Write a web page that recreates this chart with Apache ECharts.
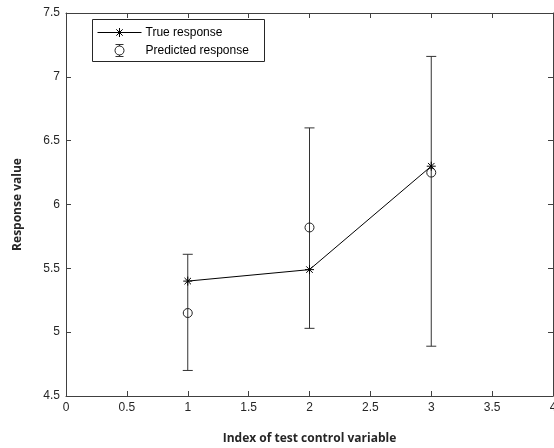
<!DOCTYPE html>
<html>
<head>
<meta charset="utf-8">
<style>
  html, body { margin: 0; padding: 0; background: #fff; overflow: hidden; }
  #chart { width: 554px; height: 448px; }
</style>
<script src="https://cdn.jsdelivr.net/npm/echarts@6/dist/echarts.min.js"></script>
</head>
<body>
<div id="chart"></div>
<script>
// Test control variable indices
const indices = [1, 2, 3];
// Measured (true) response at each index
const trueResponse = [5.40, 5.49, 6.30];
// Model prediction with its interval bounds
const predictedResponse = [5.15, 5.82, 6.25];
const predictedLower = [4.70, 5.03, 4.89];
const predictedUpper = [5.61, 6.60, 7.16];

const AXIS_COLOR = '#404040';
const TEXT_COLOR = '#262626';
const FONT = 'Liberation Sans, Arial, sans-serif';

const chart = echarts.init(document.getElementById('chart'), null, { renderer: 'canvas', width: 554, height: 448 });

function axisBase(extra) {
  return Object.assign({
    axisLine: { show: true, onZero: false, lineStyle: { color: AXIS_COLOR, width: 1 } },
    axisTick: { show: true, inside: true, length: 5, lineStyle: { color: AXIS_COLOR, width: 1 } },
    splitLine: { show: false },
  }, extra);
}

// Asterisk marker (MATLAB-style '*'): vertical, horizontal and two diagonals
function asteriskItem(params, api) {
  const p = api.coord([api.value(0), api.value(1)]);
  const r = 4.5;
  const d = r * 0.72;
  const style = { stroke: '#000', lineWidth: 1 };
  return {
    type: 'group',
    children: [
      { type: 'line', shape: { x1: p[0], y1: p[1] - r, x2: p[0], y2: p[1] + r }, style },
      { type: 'line', shape: { x1: p[0] - r, y1: p[1], x2: p[0] + r, y2: p[1] }, style },
      { type: 'line', shape: { x1: p[0] - d, y1: p[1] - d, x2: p[0] + d, y2: p[1] + d }, style },
      { type: 'line', shape: { x1: p[0] - d, y1: p[1] + d, x2: p[0] + d, y2: p[1] - d }, style },
    ]
  };
}

// Error bar with horizontal caps plus open circle at the predicted value
function errorBarItem(params, api) {
  const x = api.value(0);
  const lo = api.coord([x, api.value(1)]);
  const hi = api.coord([x, api.value(2)]);
  const mid = api.coord([x, api.value(3)]);
  const cap = 5;
  const style = { stroke: '#333', lineWidth: 1 };
  return {
    type: 'group',
    children: [
      { type: 'line', shape: { x1: lo[0], y1: lo[1], x2: hi[0], y2: hi[1] }, style },
      { type: 'line', shape: { x1: lo[0] - cap, y1: lo[1], x2: lo[0] + cap, y2: lo[1] }, style },
      { type: 'line', shape: { x1: hi[0] - cap, y1: hi[1], x2: hi[0] + cap, y2: hi[1] }, style },
      { type: 'circle', shape: { cx: mid[0], cy: mid[1], r: 4.5 }, style: { stroke: '#222', fill: 'rgba(255,255,255,0)', lineWidth: 1 } },
    ]
  };
}

const trueData = indices.map((x, i) => [x, trueResponse[i]]);
const errData = indices.map((x, i) => [x, predictedLower[i], predictedUpper[i], predictedResponse[i]]);

// Legend drawn as a boxed key in the upper-left corner
const legendGraphic = {
  type: 'group',
  left: 92, top: 19,
  children: [
    { type: 'rect', shape: { x: 0, y: 0, width: 172, height: 42 }, style: { fill: '#fff', stroke: '#262626', lineWidth: 1 } },
    { type: 'line', shape: { x1: 5, y1: 13, x2: 49, y2: 13 }, style: { stroke: '#000', lineWidth: 1 } },
    { type: 'line', shape: { x1: 27, y1: 8.5, x2: 27, y2: 17.5 }, style: { stroke: '#000', lineWidth: 1 } },
    { type: 'line', shape: { x1: 22.5, y1: 13, x2: 31.5, y2: 13 }, style: { stroke: '#000', lineWidth: 1 } },
    { type: 'line', shape: { x1: 23.8, y1: 9.8, x2: 30.2, y2: 16.2 }, style: { stroke: '#000', lineWidth: 1 } },
    { type: 'line', shape: { x1: 23.8, y1: 16.2, x2: 30.2, y2: 9.8 }, style: { stroke: '#000', lineWidth: 1 } },
    { type: 'text', style: { x: 53, y: 13, text: 'True response', fill: '#000', font: '12px ' + FONT, textVerticalAlign: 'middle' } },
    { type: 'line', shape: { x1: 27, y1: 25, x2: 27, y2: 37 }, style: { stroke: '#333', lineWidth: 1 } },
    { type: 'line', shape: { x1: 23, y1: 25, x2: 31, y2: 25 }, style: { stroke: '#333', lineWidth: 1 } },
    { type: 'line', shape: { x1: 23, y1: 37, x2: 31, y2: 37 }, style: { stroke: '#333', lineWidth: 1 } },
    { type: 'circle', shape: { cx: 27, cy: 31, r: 4.5 }, style: { stroke: '#222', fill: '#fff', lineWidth: 1 } },
    { type: 'text', style: { x: 53, y: 31, text: 'Predicted response', fill: '#000', font: '12px ' + FONT, textVerticalAlign: 'middle' } },
  ]
};

const option = {
  animation: false,
  backgroundColor: '#fff',
  grid: { left: 66, top: 13, width: 487, height: 383, containLabel: false, outerBoundsMode: 'none' },
  xAxis: [
    axisBase({
      type: 'value', min: 0, max: 4, interval: 0.5, position: 'bottom',
      name: 'Index of test control variable', nameLocation: 'middle', nameGap: 37,
      nameTextStyle: { fontFamily: 'Open Sans, sans-serif', fontWeight: 'bold', fontSize: 12, color: TEXT_COLOR },
      axisLabel: { color: TEXT_COLOR, fontFamily: FONT, fontSize: 12, margin: 6,
        formatter: v => String(v), showMaxLabel: true, showMinLabel: true },
    }),
    axisBase({
      type: 'value', min: 0, max: 4, interval: 0.5, position: 'top',
      axisLabel: { show: false },
    }),
  ],
  yAxis: [
    axisBase({
      type: 'value', min: 4.5, max: 7.5, interval: 0.5, position: 'left',
      name: 'Response value', nameLocation: 'middle', nameGap: 42, nameRotate: 90,
      nameTextStyle: { fontFamily: 'Open Sans, sans-serif', fontWeight: 'bold', fontSize: 12, color: TEXT_COLOR },
      axisLabel: { color: TEXT_COLOR, fontFamily: FONT, fontSize: 12, margin: 6, formatter: v => String(v) },
    }),
    axisBase({
      type: 'value', min: 4.5, max: 7.5, interval: 0.5, position: 'right',
      axisLabel: { show: false },
    }),
  ],
  graphic: [legendGraphic],
  series: [
    {
      name: 'True response', type: 'line', data: trueData,
      xAxisIndex: 0, yAxisIndex: 0,
      symbol: 'none', lineStyle: { color: '#000', width: 1 }, z: 3,
    },
    {
      name: 'True response markers', type: 'custom', data: trueData,
      xAxisIndex: 0, yAxisIndex: 0,
      renderItem: asteriskItem, encode: { x: 0, y: 1 }, z: 4,
    },
    {
      name: 'Predicted response', type: 'custom', data: errData,
      xAxisIndex: 0, yAxisIndex: 0,
      renderItem: errorBarItem, encode: { x: 0, y: [1, 2, 3] }, z: 2,
    },
  ],
};

chart.setOption(option);
</script>
</body>
</html>
